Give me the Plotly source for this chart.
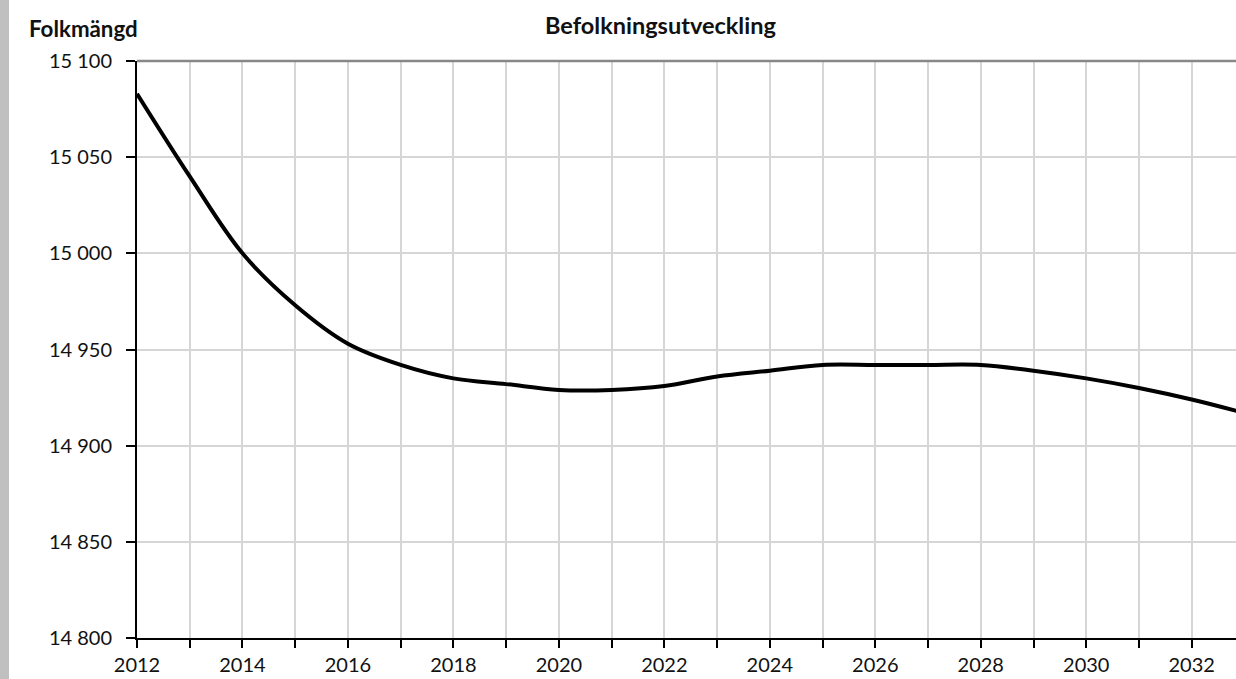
import plotly.graph_objects as go

years = list(range(2012, 2034))
population = [15083, 15040, 15000, 14973, 14953, 14942, 14935, 14932, 14929, 14929,
              14931, 14936, 14939, 14942, 14942, 14942, 14942, 14939, 14935, 14930,
              14924, 14917]
y_ticks = [14800, 14850, 14900, 14950, 15000, 15050, 15100]
x_ticks = list(range(2012, 2034, 2))

title_text = "Befolkningsutveckling"
y_title = "Folkmängd"

FONT = "Lato"
W, H = 1236, 679
L, R, T, B = 137, 0, 61, 41
PW, PH = W - L - R, H - T - B

fig = go.Figure()
fig.add_trace(go.Scatter(
    x=years, y=population, mode="lines",
    line=dict(color="black", width=4, shape="spline", smoothing=1),
    showlegend=False, hoverinfo="x+y",
))

fig.update_layout(
    width=W, height=H,
    margin=dict(l=L, r=R, t=T, b=B, pad=0),
    paper_bgcolor="white", plot_bgcolor="white",
    separators=", ",
    font=dict(family=FONT, size=20, color="#111111"),
    showlegend=False,
)

fig.update_xaxes(
    range=[2012, 2032.84],
    tickvals=x_ticks, ticktext=[str(v) for v in x_ticks],
    ticks="outside", ticklen=8, tickwidth=1.5, tickcolor="black",
    showline=True, linecolor="black", linewidth=2,
    showgrid=True, gridcolor="#d6d6d6", gridwidth=1.5,
    minor=dict(dtick=1, tick0=2012, ticks="outside", ticklen=8, tickwidth=1.5,
               tickcolor="black", showgrid=True, gridcolor="#d6d6d6", gridwidth=1.5),
    zeroline=False,
    tickfont=dict(family=FONT, size=20, color="#111111"),
)
fig.update_yaxes(
    range=[14800, 15100],
    tickvals=y_ticks, tickformat=",d",
    ticks="outside", ticklen=9, tickwidth=1.5, tickcolor="black",
    showline=True, linecolor="black", linewidth=2,
    showgrid=True, gridcolor="#d6d6d6", gridwidth=1.5,
    zeroline=False,
    tickfont=dict(family=FONT, size=20, color="#111111"),
    ticklabelstandoff=10,
)

# top border of plot area
fig.add_shape(type="line", xref="paper", yref="paper", x0=0, x1=1, y0=1, y1=1,
              line=dict(color="#888888", width=2.5), layer="above")
# grey strip at the left edge
fig.add_shape(type="rect", xref="paper", yref="paper",
              x0=-L/PW, x1=-(L-9)/PW, y0=-B/PH, y1=(H-B)/PH,
              fillcolor="#c0c0c0", line=dict(width=0), layer="below")

fig.add_annotation(text="<b>" + title_text + "</b>", xref="paper", yref="paper",
                   x=(660-L)/PW, y=(H-B-25)/PH, showarrow=False,
                   xanchor="center", yanchor="middle",
                   font=dict(family=FONT, size=23.5, color="#111111"))
fig.add_annotation(text="<b>" + y_title + "</b>", xref="paper", yref="paper",
                   x=(27-L)/PW, y=(H-B-28)/PH, showarrow=False,
                   xanchor="left", yanchor="middle",
                   font=dict(family=FONT, size=22.3, color="#111111"))

fig.write_html("out.html", config={"displayModeBar": False},
               post_script="document.body.style.margin='0';")
